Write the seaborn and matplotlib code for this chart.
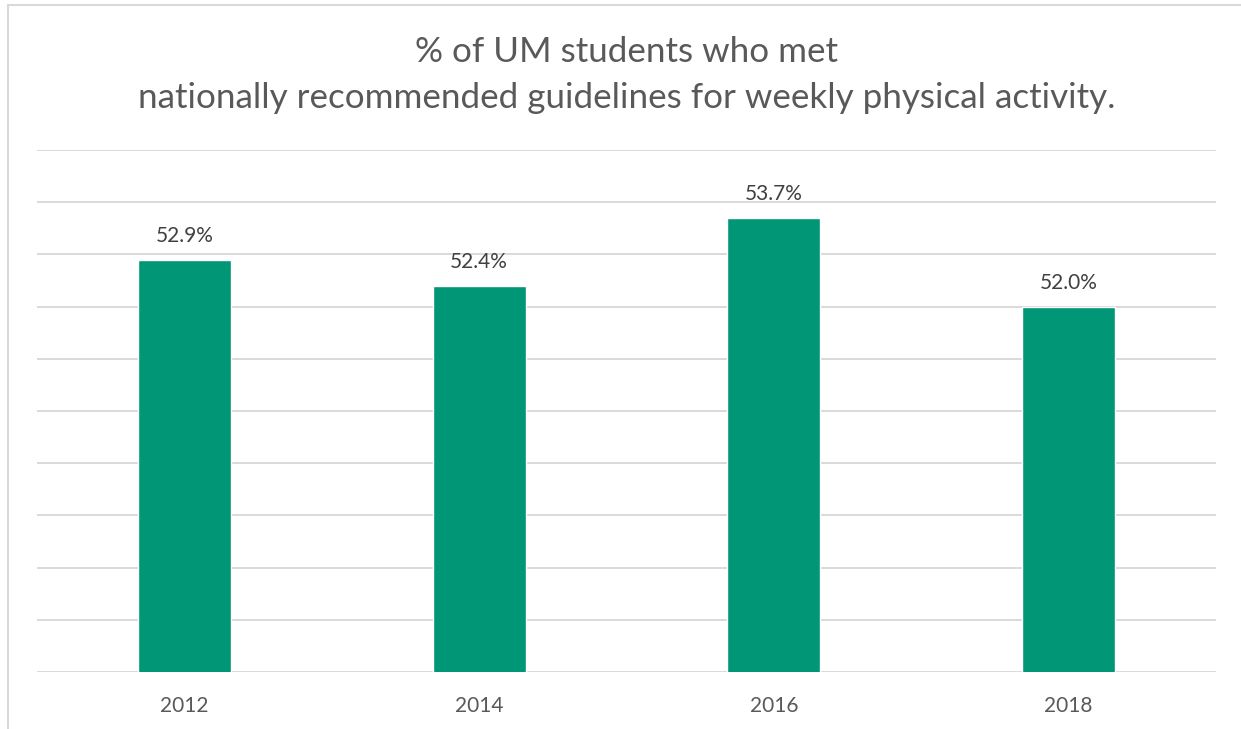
import matplotlib
matplotlib.use("Agg")
import matplotlib.pyplot as plt
import seaborn as sns
import pandas as pd
from matplotlib.lines import Line2D

years = ["2012", "2014", "2016", "2018"]
pct = [52.9, 52.4, 53.7, 52.0]
title = "% of UM students who met\nnationally recommended guidelines for weekly physical activity."

df = pd.DataFrame({"year": years, "pct": pct})

sns.set_theme(style="white")
plt.rcParams["font.family"] = ["Lato", "DejaVu Sans"]

fig = plt.figure(figsize=(12.41, 7.29), dpi=100)
ax = fig.add_axes([37 / 1241, 1 - 672 / 729, (1216 - 37) / 1241, (672 - 150) / 729])

sns.barplot(data=df, x="year", y="pct", color="#009676", saturation=1,
            width=0.316, ax=ax, zorder=3)

ax.set_ylim(45, 55)
ax.set_yticks(range(45, 56))
ax.set_yticklabels([])
ax.yaxis.grid(True, color="#d9d9d9", linewidth=1.4, zorder=0)
ax.set_axisbelow(True)
ax.set_xlabel("")
ax.set_ylabel("")
ax.tick_params(axis="x", length=0, pad=17, labelsize=15, labelcolor="#595959")
ax.tick_params(axis="y", length=0)
for s in ax.spines.values():
    s.set_visible(False)

for i, v in enumerate(pct):
    ax.annotate(f"{v:.1f}%", (i, v), xytext=(0, 10), textcoords="offset points",
                ha="center", va="bottom", fontsize=15, color="#404040")

fig.text(626.5 / 1241, 1 - 75 / 729, title, ha="center", va="center",
         fontsize=25.2, color="#595959", linespacing=1.55)

# chart frame (left and top edges)
fig.add_artist(Line2D([8 / 1241, 8 / 1241], [0, 1 - 5 / 729], transform=fig.transFigure,
                      color="#d9d9d9", linewidth=1.5))
fig.add_artist(Line2D([8 / 1241, 1], [1 - 5 / 729, 1 - 5 / 729], transform=fig.transFigure,
                      color="#d9d9d9", linewidth=1.5))

fig.savefig("out.png", dpi=100, facecolor="white")
